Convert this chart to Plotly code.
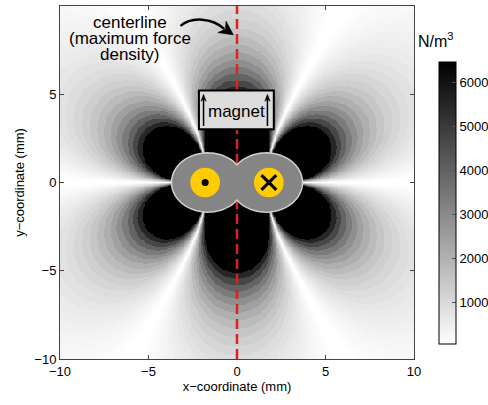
import numpy as np
import plotly.graph_objects as go

# ---- data / model parameters ----
wire_x = [-1.8, 1.8]          # wire centres (mm)
wire_y = [0.0, 0.0]
wire_current = [1.0, -1.0]    # dot = out of page, cross = into page
field_scale = 152778.0        # N/m^3 scale of the force density
c_min, c_max = 70.0, 6480.0   # colour range (N/m^3)
n_bands = 28                  # filled contour intervals (geometric spacing)
cbar_ticks = [1000, 2000, 3000, 4000, 5000, 6000]
axis_ticks = [-10, -5, 0, 5, 10]

# ---- field on a grid ----
gx = np.linspace(-10, 10, 401)
gy = np.linspace(-10, 10, 401)
X, Y = np.meshgrid(gx, gy)
Z = X + 1j * Y
S = np.zeros_like(Z)
for xw, yw, I in zip(wire_x, wire_y, wire_current):
    S = S + I / (Z - (xw + 1j * yw)) ** 2
F = field_scale * np.abs(S.imag)

levels = np.geomspace(c_min, c_max, n_bands + 1)
idx = np.clip(np.searchsorted(levels, F, side="right") - 1, 0, n_bands)
Fq = levels[idx]

gray = [[0, "#ffffff"], [1, "#000000"]]

L, R, T, Bm = 60, 74, 6, 45.5
W_, H_ = 488, 405
pw, ph = W_ - L - R, H_ - T - Bm

fig = go.Figure()
fig.add_trace(go.Heatmap(
    x=gx, y=gy, z=Fq, colorscale=gray, zmin=c_min, zmax=c_max, zsmooth=False,
    hoverinfo="skip",
    colorbar=dict(
        x=(429 - L) / pw, xanchor="left", y=(H_ - Bm - 354) / ph, yanchor="bottom",
        len=302 / ph, lenmode="fraction", thickness=17, thicknessmode="pixels",
        outlinecolor="#000", outlinewidth=1,
        ticks="inside", ticklen=4, tickcolor="#555",
        tickvals=cbar_ticks, tickfont=dict(size=13, color="#000"),
    ),
))

shapes = []
shapes.append(dict(type="line", xref="x", yref="y", x0=0, x1=0, y0=-10, y1=10,
                   line=dict(color="#dd2222", width=2.5, dash="10px,5px"), layer="above"))

cx, A, B = 1.65, 2.05, 1.68
t0 = np.arccos(cx / A)
tl = np.linspace(t0, 2 * np.pi - t0, 80)
lx = -cx + A * np.cos(tl); ly = B * np.sin(tl)
tr = np.linspace(np.pi + t0, 3 * np.pi - t0, 80)
rx = cx + A * np.cos(tr); ry = B * np.sin(tr)
px = np.concatenate([lx, rx]); py = np.concatenate([ly, ry])
path = "M " + " L ".join(f"{a:.3f},{b:.3f}" for a, b in zip(px, py)) + " Z"
shapes.append(dict(type="path", xref="x", yref="y", path=path,
                   fillcolor="#858585", line=dict(color="#d0d0d0", width=1.5), layer="above"))

r_w = 0.84
for xw, yw in zip(wire_x, wire_y):
    shapes.append(dict(type="circle", xref="x", yref="y", x0=xw - r_w, x1=xw + r_w,
                       y0=yw - r_w, y1=yw + r_w, fillcolor="#ffcc00", line=dict(width=0), layer="above"))
r_d = 0.2
shapes.append(dict(type="circle", xref="x", yref="y", x0=wire_x[0] - r_d, x1=wire_x[0] + r_d,
                   y0=-r_d, y1=r_d, fillcolor="#000", line=dict(width=0), layer="above"))
h = 0.42
for s in (1, -1):
    shapes.append(dict(type="line", xref="x", yref="y", x0=wire_x[1] - h, x1=wire_x[1] + h,
                       y0=-h * s, y1=h * s, line=dict(color="#000", width=3), layer="above"))

shapes.append(dict(type="rect", xref="x", yref="y", x0=-2.15, x1=2.08, y0=3.02, y1=5.21,
                   fillcolor="#dcdcdc", line=dict(color="#000", width=2), layer="above"))


def head(tip, d, length, half):
    d = np.asarray(d, float); d = d / np.hypot(*d)
    n = np.array([-d[1], d[0]])
    t = np.asarray(tip, float)
    b = t - length * d
    p1 = b + half * n; p2 = b - half * n; notch = t - 0.7 * length * d
    pts = [t, p1, notch, p2]
    return "M " + " L ".join(f"{p[0]:.3f},{p[1]:.3f}" for p in pts) + " Z"


for xa in (-1.89, 1.72):
    shapes.append(dict(type="line", xref="x", yref="y", x0=xa, x1=xa, y0=3.2, y1=4.8,
                       line=dict(color="#000", width=1.5), layer="above"))
    shapes.append(dict(type="path", xref="x", yref="y", path=head((xa, 5.0), (0, 1), 0.4, 0.15),
                       fillcolor="#000", line=dict(color="#000", width=0.5), layer="above"))

shapes.append(dict(type="path", xref="x", yref="y",
                   path="M -3.19,8.87 C -2.6,9.4 -1.4,9.35 -0.72,8.7",
                   line=dict(color="#000", width=2.5), layer="above"))
shapes.append(dict(type="path", xref="x", yref="y", path=head((-0.2, 8.36), (0.816, -0.578), 0.8, 0.4),
                   fillcolor="#000", line=dict(color="#000", width=0.5), layer="above"))
fig.update_layout(shapes=shapes)

ann = []
for txt, yy in (("centerline", 23), ("(maximum force", 39), ("density)", 55)):
    ann.append(dict(text=txt, xref="paper", yref="paper",
                    x=(130 - L) / pw, y=1 - (yy - T) / ph,
                    xanchor="center", yanchor="middle", showarrow=False,
                    font=dict(size=17, color="#000")))
ann.append(dict(text="magnet", x=-0.05, y=4.05, xref="x", yref="y", showarrow=False,
                font=dict(size=17, color="#000")))
ann.append(dict(text="N/m<sup>3</sup>", xref="paper", yref="paper",
                x=(436 - L) / pw, y=1 - (40 - T) / ph, xanchor="center", yanchor="middle",
                showarrow=False, font=dict(size=16, color="#000")))

fig.update_layout(
    annotations=ann,
    width=W_, height=H_,
    margin=dict(l=L, r=R, t=T, b=Bm, autoexpand=False),
    paper_bgcolor="#fff", plot_bgcolor="#fff",
    font=dict(family="Liberation Sans, Arial", size=13, color="#000"),
    xaxis=dict(range=[-10, 10], tickvals=axis_ticks, showline=True, mirror="ticks",
               linecolor="#444", linewidth=1, ticks="inside", ticklen=4, tickcolor="#444",
               showgrid=False, zeroline=False,
               title=dict(text="x\u2212coordinate (mm)", font=dict(size=13), standoff=4)),
    yaxis=dict(range=[-10, 10], tickvals=axis_ticks, showline=True, mirror="ticks",
               linecolor="#444", linewidth=1, ticks="inside", ticklen=4, tickcolor="#444",
               showgrid=False, zeroline=False,
               title=dict(text="y\u2212coordinate (mm)", font=dict(size=13), standoff=6)),
)

fig.write_html("out.html")
